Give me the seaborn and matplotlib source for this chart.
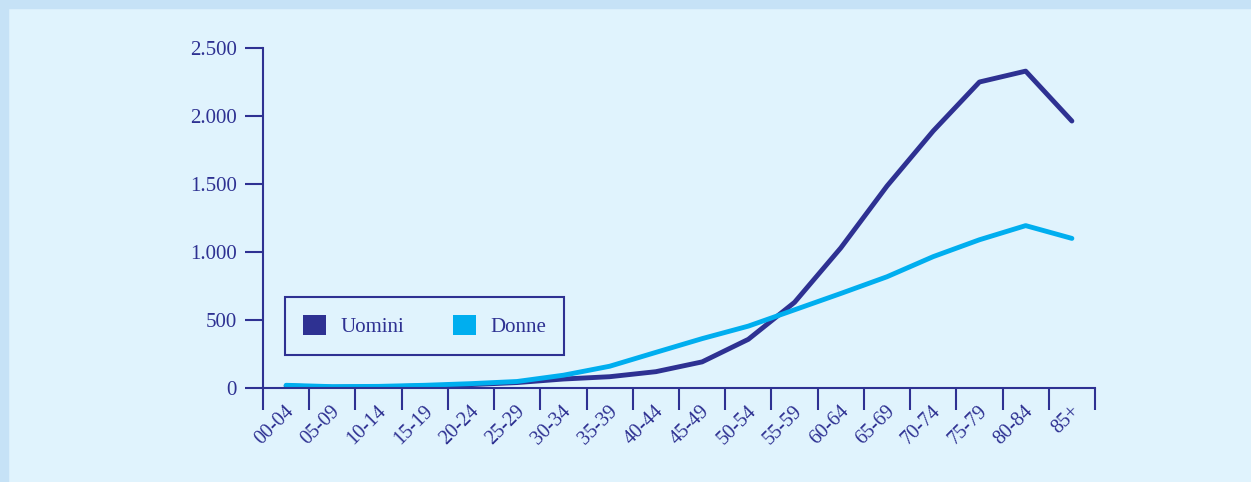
import pandas as pd
import seaborn as sns
import matplotlib
import matplotlib.pyplot as plt
from matplotlib.patches import Patch, Rectangle
from matplotlib.transforms import ScaledTranslation

matplotlib.use("Agg")

AGE_GROUPS = ["00-04", "05-09", "10-14", "15-19", "20-24", "25-29", "30-34",
              "35-39", "40-44", "45-49", "50-54", "55-59", "60-64", "65-69",
              "70-74", "75-79", "80-84", "85+"]
UOMINI = [15, 6, 8, 15, 25, 40, 66, 83, 120, 192, 358, 630, 1030, 1485,
          1890, 2250, 2330, 1963]
DONNE = [20, 10, 12, 20, 32, 48, 94, 160, 262, 363, 455, 575, 695, 818,
         966, 1090, 1194, 1100]
Y_TICKS = [0, 500, 1000, 1500, 2000, 2500]
Y_LABELS = ["0", "500", "1.000", "1.500", "2.000", "2.500"]

NAVY = "#2E3192"
CYAN = "#00AEEF"
BG = "#E0F3FD"
BORDER = "#C6E2F6"


def get_df():
    rows = []
    for name, vals in [("Uomini", UOMINI), ("Donne", DONNE)]:
        for age, v in zip(AGE_GROUPS, vals):
            rows.append({"eta": age, "valore": v, "sesso": name})
    return pd.DataFrame(rows)


def plot_chart(df):
    sns.set_style("ticks")
    plt.rcParams["font.family"] = ["Liberation Serif", "DejaVu Serif"]
    fig = plt.figure(figsize=(12.51, 4.82), dpi=100, facecolor=BG)
    # borders on top and left
    fig.patches.append(Rectangle((0, 474 / 482), 1, 8 / 482, transform=fig.transFigure,
                                 color=BORDER, zorder=0))
    fig.patches.append(Rectangle((0, 0), 8 / 1251, 1, transform=fig.transFigure,
                                 color=BORDER, zorder=0))
    ax = fig.add_axes([263 / 1251, 94 / 482, 832 / 1251, 340 / 482])
    ax.set_facecolor(BG)

    sns.lineplot(data=df, x="eta", y="valore", hue="sesso", ax=ax,
                 palette={"Uomini": NAVY, "Donne": CYAN}, linewidth=3.5,
                 solid_capstyle="round", legend=False, sort=False)

    ax.set_xlim(-0.5, len(AGE_GROUPS) - 0.5)
    ax.set_ylim(0, 2500)
    for s in ["top", "right"]:
        ax.spines[s].set_visible(False)
    for s in ["left", "bottom"]:
        ax.spines[s].set_color(NAVY)
        ax.spines[s].set_linewidth(1.5)
    ax.spines["left"].set_zorder(3)
    ax.set_xlabel("")
    ax.set_ylabel("")

    ax.set_yticks(Y_TICKS)
    ax.set_yticklabels(Y_LABELS)
    ax.tick_params(axis="y", length=13, width=1.5, color=NAVY, labelcolor=NAVY,
                   labelsize=15, pad=6)

    ax.set_xticks([i - 0.5 for i in range(len(AGE_GROUPS) + 1)])
    ax.set_xticklabels([])
    ax.set_xticks(range(len(AGE_GROUPS)), minor=True)
    ax.set_xticklabels(AGE_GROUPS, minor=True, rotation=45, ha="right",
                       va="center", rotation_mode="anchor")
    ax.tick_params(axis="x", which="major", length=16, width=1.5, color=NAVY)
    ax.tick_params(axis="x", which="minor", length=0, labelcolor=NAVY,
                   labelsize=14.5, pad=15)
    shift = ScaledTranslation(5 / 100, 0, fig.dpi_scale_trans)
    for lab in ax.get_xticklabels(minor=True):
        lab.set_transform(lab.get_transform() + shift)

    handles = [Patch(facecolor=NAVY, edgecolor="none", label="Uomini"),
               Patch(facecolor=CYAN, edgecolor="none", label="Donne")]
    leg = ax.legend(handles=handles, loc="upper left", bbox_to_anchor=(0.0264, 0.2676),
                    borderaxespad=0, ncol=2, fontsize=15, fancybox=False,
                    handlelength=1.1, handleheight=1.1, handletextpad=0.7,
                    columnspacing=2.35, borderpad=0.85, labelcolor=NAVY)
    leg.get_frame().set_edgecolor(NAVY)
    leg.get_frame().set_linewidth(1.5)
    leg.get_frame().set_facecolor(BG)
    leg.get_frame().set_alpha(1)

    fig.savefig("out.png", dpi=100, facecolor=BG)


def main():
    plot_chart(get_df())


if __name__ == "__main__":
    main()
